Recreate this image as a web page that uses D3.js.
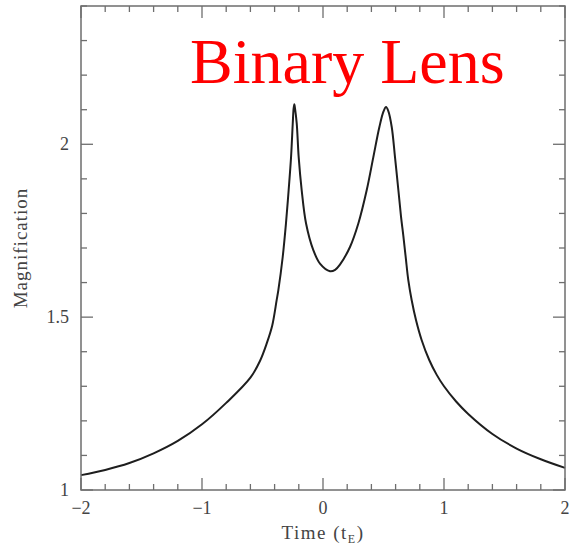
<!DOCTYPE html>
<html>
<head>
<meta charset="utf-8">
<script src="https://cdn.jsdelivr.net/npm/d3@7"></script>
<style>
  html, body { margin: 0; padding: 0; background: #fff; }
  svg { display: block; }
</style>
</head>
<body>
<svg id="chart" width="570" height="549"></svg>
<script>
// ---- data ----
const time = [-2.0, -1.8, -1.6, -1.4, -1.2, -1.0, -0.8, -0.6, -0.52, -0.465, -0.42, -0.383, -0.369, -0.333, -0.306, -0.284, -0.264, -0.25, -0.243, -0.237, -0.231, -0.217, -0.201, -0.176, -0.14, -0.08, -0.025, 0.058, 0.1, 0.14, 0.223, 0.292, 0.361, 0.416, 0.466, 0.5, 0.521, 0.54, 0.568, 0.595, 0.623, 0.645, 0.664, 0.683, 0.705, 0.733, 0.769, 0.815, 0.878, 0.94, 1.0, 1.1, 1.2, 1.4, 1.6, 1.8, 2.0];
const magnification = [1.043, 1.058, 1.078, 1.106, 1.142, 1.190, 1.252, 1.325, 1.374, 1.424, 1.475, 1.549, 1.578, 1.674, 1.771, 1.867, 1.963, 2.060, 2.103, 2.116, 2.103, 2.060, 1.963, 1.867, 1.771, 1.694, 1.655, 1.633, 1.637, 1.652, 1.703, 1.771, 1.867, 1.963, 2.050, 2.095, 2.108, 2.096, 2.050, 1.963, 1.867, 1.790, 1.735, 1.675, 1.607, 1.549, 1.491, 1.434, 1.376, 1.333, 1.300, 1.256, 1.220, 1.162, 1.120, 1.089, 1.064];
const xMajorTicks = [-2, -1, 0, 1, 2];
const xTickLabels = ["\u22122", "\u22121", "0", "1", "2"];
const yMajorTicks = [1, 1.5, 2];
const yTickLabels = ["1", "1.5", "2"];
const titleText = "Binary Lens";
const xLabel = "Time (t";
const xLabelSub = "E";
const yLabel = "Magnification";

// ---- layout ----
const svg = d3.select("#chart");
const mLeft = 81, mRight = 565, mTop = 6, mBottom = 490;
const x = d3.scaleLinear().domain([-2, 2]).range([mLeft, mRight]);
const y = d3.scaleLinear().domain([1, 2.4]).range([mBottom, mTop]);

const axisColor = "#6e6e6e";
const textColor = "#444";
const fontFam = "'Liberation Serif', 'DejaVu Serif', serif";

const xMinor = d3.range(-2, 2.0001, 0.2).map(v => +v.toFixed(2)).filter(v => Math.abs(v - Math.round(v)) > 1e-6);
const yMinor = d3.range(1, 2.4001, 0.1).map(v => +v.toFixed(2)).filter(v => Math.abs(v * 2 - Math.round(v * 2)) > 1e-6);

const g = svg.append("g");

// curve
const pts = time.map((t, i) => [t, magnification[i]]);
g.append("path")
  .datum(pts)
  .attr("fill", "none")
  .attr("stroke", "#1e1e1e")
  .attr("stroke-width", 2)
  .attr("stroke-linejoin", "round")
  .attr("d", d3.line().x(d => x(d[0])).y(d => y(d[1])).curve(d3.curveCatmullRom.alpha(0.5)));

// frame
g.append("rect")
  .attr("x", mLeft).attr("y", mTop)
  .attr("width", mRight - mLeft).attr("height", mBottom - mTop)
  .attr("fill", "none").attr("stroke", axisColor).attr("stroke-width", 1.5);

const majLen = 12, minLen = 6;
const tickG = g.append("g").attr("stroke", axisColor).attr("stroke-width", 1.3);
xMajorTicks.forEach(v => {
  tickG.append("line").attr("x1", x(v)).attr("x2", x(v)).attr("y1", mBottom).attr("y2", mBottom - majLen);
  tickG.append("line").attr("x1", x(v)).attr("x2", x(v)).attr("y1", mTop).attr("y2", mTop + majLen);
});
xMinor.forEach(v => {
  tickG.append("line").attr("x1", x(v)).attr("x2", x(v)).attr("y1", mBottom).attr("y2", mBottom - minLen);
  tickG.append("line").attr("x1", x(v)).attr("x2", x(v)).attr("y1", mTop).attr("y2", mTop + minLen);
});
yMajorTicks.forEach(v => {
  tickG.append("line").attr("y1", y(v)).attr("y2", y(v)).attr("x1", mLeft).attr("x2", mLeft + majLen);
  tickG.append("line").attr("y1", y(v)).attr("y2", y(v)).attr("x1", mRight).attr("x2", mRight - majLen);
});
yMinor.forEach(v => {
  tickG.append("line").attr("y1", y(v)).attr("y2", y(v)).attr("x1", mLeft).attr("x2", mLeft + minLen);
  tickG.append("line").attr("y1", y(v)).attr("y2", y(v)).attr("x1", mRight).attr("x2", mRight - minLen);
});

// tick labels
g.selectAll(".xtl").data(xMajorTicks).enter().append("text")
  .attr("x", d => x(d)).attr("y", mBottom + 24)
  .attr("text-anchor", "middle")
  .attr("font-family", fontFam).attr("font-size", 18).attr("fill", textColor)
  .text((d, i) => xTickLabels[i]);

g.selectAll(".ytl").data(yMajorTicks).enter().append("text")
  .attr("x", mLeft - 12).attr("y", d => y(d) + 6)
  .attr("text-anchor", "end")
  .attr("font-family", fontFam).attr("font-size", 18).attr("fill", textColor)
  .text((d, i) => yTickLabels[i]);

// axis labels
const xl = g.append("text")
  .attr("x", (mLeft + mRight) / 2).attr("y", 539)
  .attr("text-anchor", "middle")
  .attr("letter-spacing", 1.5)
  .attr("font-family", fontFam).attr("font-size", 19).attr("fill", textColor);
xl.append("tspan").text(xLabel);
xl.append("tspan").attr("font-size", 12).attr("dy", 4).text(xLabelSub);
xl.append("tspan").attr("dy", -4).text(")");

g.append("text")
  .attr("transform", `translate(27, ${(mTop + mBottom) / 2}) rotate(-90)`)
  .attr("text-anchor", "middle")
  .attr("letter-spacing", 1)
  .attr("font-family", fontFam).attr("font-size", 19).attr("fill", textColor)
  .text(yLabel);

// title
g.append("text")
  .attr("x", 190).attr("y", 83)
  .attr("font-family", "'Liberation Serif', 'Times New Roman', serif")
  .attr("font-size", 64).attr("fill", "#ff0000")
  .text(titleText);
</script>
</body>
</html>
